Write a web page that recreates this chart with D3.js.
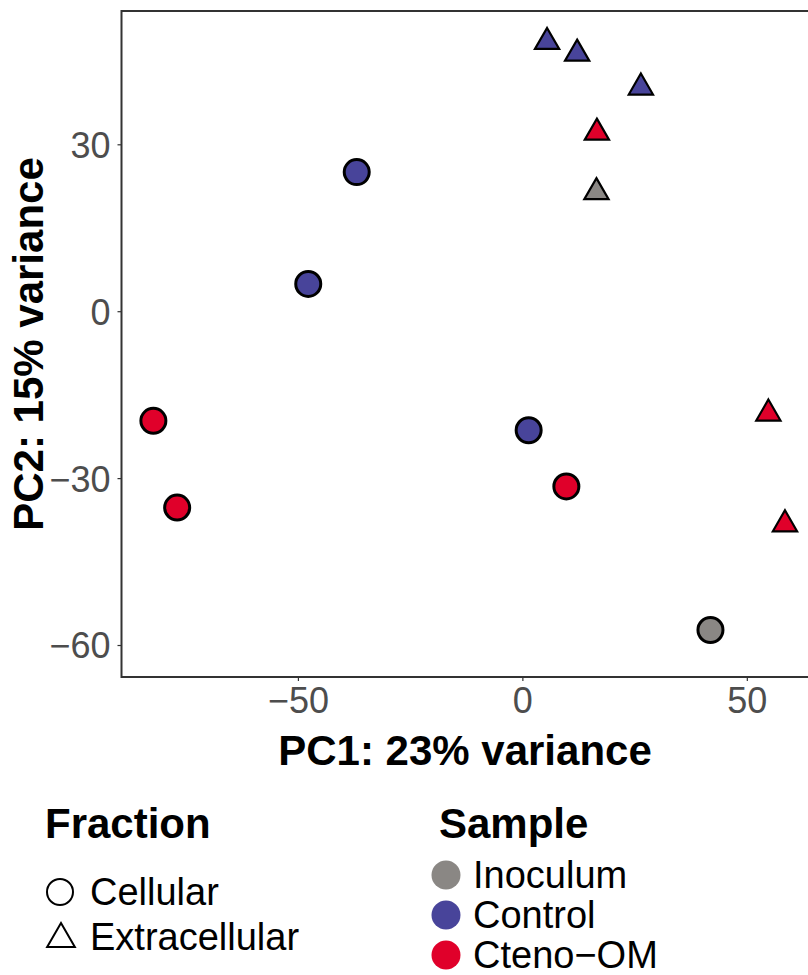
<!DOCTYPE html>
<html>
<head>
<meta charset="utf-8">
<script src="https://cdn.jsdelivr.net/npm/d3@7"></script>
<style>
  html, body { margin: 0; padding: 0; background: #fff; }
  svg { display: block; font-family: "Liberation Sans", Arial, Helvetica, sans-serif; }
</style>
</head>
<body>
<svg id="chart" width="808" height="975"></svg>
<script>
// ---- data ----
const sampleNames = ["Inoculum", "Control", "Cteno-OM"];
const sampleColors = ["#8a8784", "#48449a", "#e0002a"];
const fractionNames = ["Cellular", "Extracellular"];

const pointSample   = ["Control","Control","Cteno-OM","Cteno-OM","Control","Cteno-OM","Inoculum",
                       "Control","Control","Control","Cteno-OM","Inoculum","Cteno-OM","Cteno-OM"];
const pointFraction = ["Cellular","Cellular","Cellular","Cellular","Cellular","Cellular","Cellular",
                       "Extracellular","Extracellular","Extracellular","Extracellular","Extracellular","Extracellular","Extracellular"];
const pc1 = [-36.9, -47.7, -82.2, -76.9, 1.4, 9.8, 41.9, 5.5, 12.2, 26.4, 16.6, 16.5, 54.8, 58.5];
const pc2 = [25.0, 4.9, -19.7, -35.3, -21.4, -31.5, -57.3, 48.4, 46.3, 40.2, 32.1, 21.4, -18.4, -38.3];

const xTicks = [-50, 0, 50];
const yTicks = [-60, -30, 0, 30];
const xDomain = [-89.3, 65.5];
const yDomain = [-65.75, 53.96];
const xTitle = "PC1: 23% variance";
const yTitle = "PC2: 15% variance";

// ---- layout ----
const svg = d3.select("#chart");
const panel = { left: 121.5, right: 816.4, top: 11, bottom: 677 };

const x = d3.scaleLinear().domain(xDomain).range([panel.left, panel.right]);
const y = d3.scaleLinear().domain(yDomain).range([panel.bottom, panel.top]);
const color = d3.scaleOrdinal().domain(sampleNames).range(sampleColors);

const triPath = r => {
  const h = r * Math.sqrt(3) / 2;
  return `M0,${-r}L${h},${r/2}L${-h},${r/2}Z`;
};

// axes
const fmt = d3.format("d");
const xAxis = svg.append("g")
  .attr("transform", `translate(0,${panel.bottom})`)
  .call(d3.axisBottom(x).tickValues(xTicks).tickSize(4).tickPadding(6).tickFormat(fmt));
const yAxis = svg.append("g")
  .attr("transform", `translate(${panel.left},0)`)
  .call(d3.axisLeft(y).tickValues(yTicks).tickSize(4).tickPadding(7).tickFormat(fmt));
[xAxis, yAxis].forEach(g => {
  g.select(".domain").remove();
  g.selectAll(".tick line").attr("stroke", "#333").attr("stroke-width", 1.2);
  g.selectAll(".tick text").attr("fill", "#4d4d4d").style("font-size", "36px");
});
xAxis.selectAll(".tick text").attr("dy", "0.71em");
yAxis.selectAll(".tick text").attr("dy", "0.36em");

// panel border
svg.append("rect")
  .attr("x", panel.left).attr("y", panel.top)
  .attr("width", panel.right - panel.left).attr("height", panel.bottom - panel.top)
  .attr("fill", "none").attr("stroke", "#333").attr("stroke-width", 2);

// points
const pts = pc1.map((v, i) => ({ x: v, y: pc2[i], s: pointSample[i], f: pointFraction[i] }));
const g = svg.append("g");
g.selectAll("circle.pt").data(pts.filter(d => d.f === "Cellular")).join("circle")
  .attr("class", "pt")
  .attr("cx", d => x(d.x)).attr("cy", d => y(d.y)).attr("r", 12.5)
  .attr("fill", d => color(d.s)).attr("stroke", "#000").attr("stroke-width", 3);
g.selectAll("path.pt").data(pts.filter(d => d.f === "Extracellular")).join("path")
  .attr("class", "pt")
  .attr("transform", d => `translate(${x(d.x)},${y(d.y)})`)
  .attr("d", triPath(14))
  .attr("fill", d => color(d.s)).attr("stroke", "#000").attr("stroke-width", 2.2)
  .attr("stroke-linejoin", "miter");

// axis titles
svg.append("text").attr("x", 465).attr("y", 765).attr("text-anchor", "middle")
  .style("font-size", "42px").style("font-weight", "bold").attr("fill", "#000").text(xTitle);
svg.append("text").attr("transform", `translate(43,${(panel.top + panel.bottom) / 2}) rotate(-90)`)
  .attr("text-anchor", "middle")
  .style("font-size", "42px").style("font-weight", "bold").attr("fill", "#000").text(yTitle);

// legend: Fraction
const lf = svg.append("g");
lf.append("text").attr("x", 45).attr("y", 838).style("font-size", "42px").style("font-weight", "bold").text("Fraction");
const fracRows = [892, 937];
fractionNames.forEach((name, i) => {
  if (name === "Cellular") {
    lf.append("circle").attr("cx", 60).attr("cy", fracRows[i]).attr("r", 13)
      .attr("fill", "none").attr("stroke", "#000").attr("stroke-width", 2);
  } else {
    lf.append("path").attr("transform", `translate(61,${fracRows[i] + 2})`).attr("d", triPath(16))
      .attr("fill", "none").attr("stroke", "#000").attr("stroke-width", 2);
  }
  lf.append("text").attr("x", 90).attr("y", fracRows[i] + 13).style("font-size", "38px").text(name);
});

// legend: Sample
const ls = svg.append("g");
ls.append("text").attr("x", 439).attr("y", 838).style("font-size", "42px").style("font-weight", "bold").text("Sample");
const sampRows = [875, 915, 955];
sampleNames.forEach((name, i) => {
  ls.append("circle").attr("cx", 446).attr("cy", sampRows[i]).attr("r", 14.5).attr("fill", color(name));
  ls.append("text").attr("x", 473).attr("y", sampRows[i] + 13).style("font-size", "38px")
    .text(name.replace("-", "\u2212"));
});
</script>
</body>
</html>
